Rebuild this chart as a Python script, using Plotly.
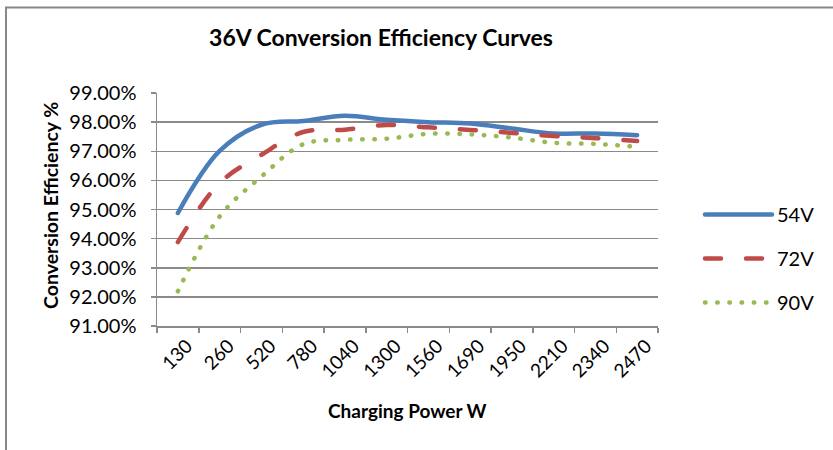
import plotly.graph_objects as go

# Charging power categories (W)
power = ["130", "260", "520", "780", "1040", "1300", "1560", "1690", "1950", "2210", "2340", "2470"]

# Conversion efficiency (%) for each output voltage
eff_54v = [94.88, 97.01, 97.91, 98.04, 98.22, 98.08, 98.00, 97.95, 97.78, 97.61, 97.61, 97.55]
eff_72v = [93.88, 95.91, 96.88, 97.66, 97.74, 97.90, 97.82, 97.73, 97.63, 97.52, 97.45, 97.35]
eff_90v = [92.19, 94.76, 96.13, 97.24, 97.39, 97.43, 97.60, 97.58, 97.47, 97.29, 97.25, 97.15]

series_names = ["54V", "72V", "90V"]
y_ticks = [91, 92, 93, 94, 95, 96, 97, 98, 99]
y_tick_labels = ["91.00%", "92.00%", "93.00%", "94.00%", "95.00%",
                 "96.00%", "97.00%", "98.00%", "99.00%"]

FONT = "Lato"
GRID = "#8a8a8a"

W, H = 833, 450
ML, MR, MT, MB = 157, 175, 93, 124
PW = W - ML - MR
PH = H - MT - MB


def px_x(p):
    return (p - ML) / PW


def px_y(p):
    return (H - MB - p) / PH


fig = go.Figure()
styles = [
    dict(color="#4A7EBB", width=4.5, dash="solid"),
    dict(color="#BE4B48", width=4.5, dash="16px,25px"),
    dict(color="#98B954", width=4.5, dash="0.5px,11.7px"),
]
for name, vals, st in zip(series_names, [eff_54v, eff_72v, eff_90v], styles):
    fig.add_trace(go.Scatter(
        x=power, y=vals, name=name, mode="lines",
        line=dict(shape="spline", smoothing=1.0, **st),
        legendgroup=name, hoverinfo="skip",
    ))

fig.update_layout(
    width=W, height=H,
    margin=dict(l=ML, r=MR, t=MT, b=MB, pad=0),
    paper_bgcolor="white", plot_bgcolor="white",
    font=dict(family=FONT, color="#000000"),
    title=dict(text="<b>36V Conversion Efficiency Curves</b>", x=381 / W, xanchor="center",
               y=1 - 38 / H, yanchor="middle", font=dict(size=23, family=FONT)),
    showlegend=True,
    legend=dict(x=px_x(737), xanchor="left", y=px_y(195), yanchor="top",
                font=dict(size=20, family=FONT), tracegroupgap=15,
                bgcolor="rgba(0,0,0,0)", borderwidth=0, itemclick=False),
    xaxis=dict(
        type="category", range=[-0.5, len(power) - 0.5],
        tickangle=-45, tickson="boundaries",
        ticks="outside", ticklen=5, tickcolor=GRID, tickwidth=1.5,
        showline=True, linecolor=GRID, linewidth=1.5,
        showgrid=False, tickfont=dict(size=19, family=FONT),
        ticklabelshift=9, ticklabelstandoff=0,
        zeroline=False,
    ),
    yaxis=dict(
        range=[91, 99], tickvals=y_ticks, ticktext=y_tick_labels,
        ticks="outside", ticklen=5, tickcolor=GRID, tickwidth=1.5,
        showline=True, linecolor=GRID, linewidth=1.5,
        showgrid=True, gridcolor=GRID, gridwidth=1.5,
        tickfont=dict(size=20, family=FONT), ticklabelstandoff=10,
        zeroline=False,
    ),
    annotations=[
        dict(text="<b>Charging Power W</b>", xref="paper", yref="paper",
             x=px_x(407), y=px_y(410), xanchor="center", yanchor="middle",
             showarrow=False, font=dict(size=19, family=FONT)),
        dict(text="<b>Conversion Efficiency %</b>", xref="paper", yref="paper",
             x=px_x(50), y=px_y(206), xanchor="center", yanchor="middle",
             textangle=-90, showarrow=False, font=dict(size=19.5, family=FONT)),
    ],
    shapes=[
        dict(type="rect", xref="paper", yref="paper",
             x0=px_x(6), x1=px_x(845), y0=px_y(470), y1=px_y(7.5),
             line=dict(color="#888888", width=2), fillcolor="rgba(0,0,0,0)", layer="below"),
    ],
)

# Round line caps (for dotted/dashed strokes) and longer legend samples
post = """
var gd = document.getElementById('{plot_id}');
function styleLines(){
  gd.querySelectorAll('.scatterlayer .js-line').forEach(function(p){
    p.style.strokeLinecap = 'round'; p.style.strokeLinejoin = 'round';
  });
  gd.querySelectorAll('.legend .legendlines path').forEach(function(p){
    p.setAttribute('d', 'M-32,0h67');
    p.style.strokeLinecap = 'round';
  });
  gd.querySelectorAll('.legend .scrollbox').forEach(function(e){ e.removeAttribute('clip-path'); });
}
styleLines();
gd.on('plotly_afterplot', styleLines);
"""

fig.write_html("out.html", config={"staticPlot": True}, post_script=post)
